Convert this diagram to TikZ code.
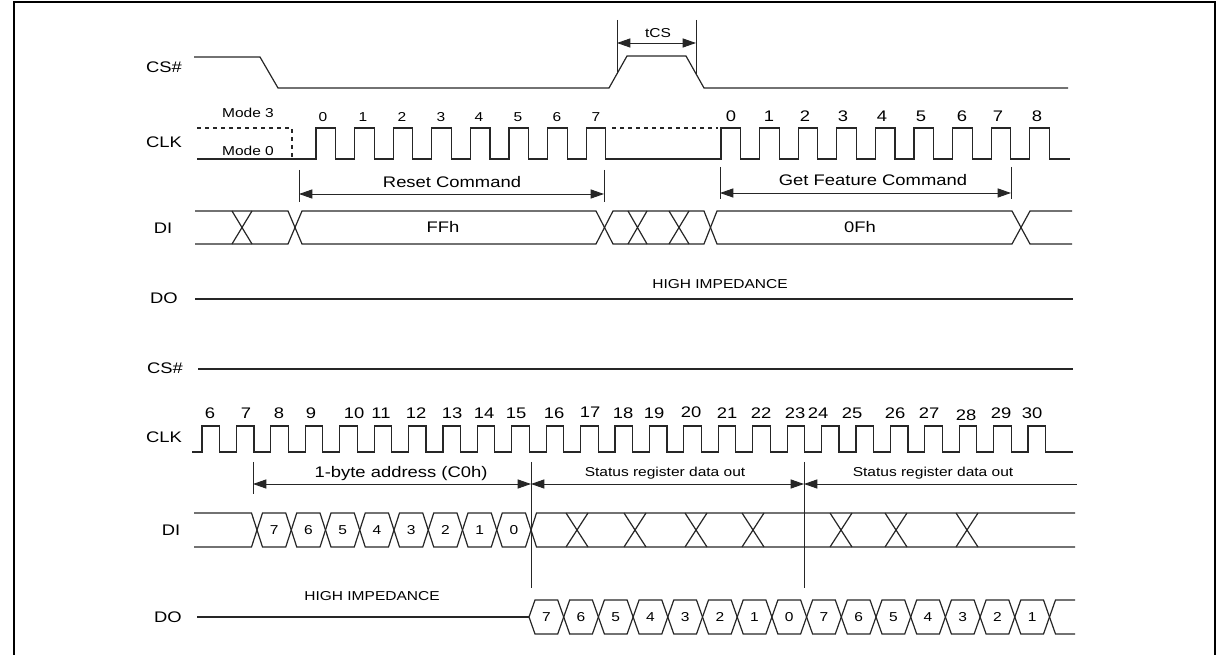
\documentclass[tikz,border=0pt]{standalone}
\usepackage{fontspec}
\setmainfont{Liberation Sans}[FakeStretch=1.2]
\usetikzlibrary{arrows.meta}
\begin{document}
\begin{tikzpicture}[x=0.75pt,y=-0.75pt,
  sig/.style={line width=0.9pt,color=black!85},
  dim/.style={line width=0.7pt,color=black!85},
  dimarr/.style={dim,{Triangle[length=10pt,width=6.8pt]}-{Triangle[length=10pt,width=6.8pt]}},
  larr/.style={dim,{Triangle[length=10pt,width=6.8pt]}-},
  big/.style={font=\fontsize{11.5}{13}\selectfont,inner sep=0pt,text height=8.3pt,text depth=0pt},
  small/.style={font=\fontsize{9.7}{11}\selectfont,inner sep=0pt,text height=6.9pt,text depth=0pt},
]
\useasboundingbox (0,0) rectangle (1221,655);
\draw[line width=1.8pt] (14,655) -- (14,2.2) -- (1214.7,2.2) -- (1214.7,655);

% ---------- signal names ----------
\node[big] (ncs1) at (164,67) {CS\#};
\node[big] (nclk1) at (164,142) {CLK};
\node[big] (ndi1) at (163,228) {DI};
\node[big] (ndo1) at (164,298) {DO};
\node[big] (ncs2) at (165,368) {CS\#};
\node[big] (nclk2) at (164,437) {CLK};
\node[big] (ndi2) at (171,530) {DI};
\node[big] (ndo2) at (168,617) {DO};

% ---------- top CS# ----------
\draw[sig] (194,57) -- (260,57) -- (278,88) -- (609,88) -- (627,56) -- (686,56) -- (704,88) -- (1068,88);
\draw[dim] (617,20) -- (617,74);
\draw[dim] (696,20) -- (696,74);
\draw[dimarr] (617,43) -- (696,43);
\node[small] (ntcs) at (658,33) {tCS};

% ---------- top CLK ----------
\draw[sig,dashed] (197,128) -- (292,128) -- (292,159);
\draw[sig,dashed] (612,128) -- (718,128);
\draw[sig] (197,159)
  \foreach \i in {0,...,7} { -- ({316+38.6*\i},159) -- ({316+38.6*\i},128) -- ({335.5+38.6*\i},128) -- ({335.5+38.6*\i},159) }
  -- (721,159)
  \foreach \i in {0,...,8} { -- ({721+38.6*\i},159) -- ({721+38.6*\i},128) -- ({740.5+38.6*\i},128) -- ({740.5+38.6*\i},159) }
  -- (1070,159);
\node[small] (nm3) at (248,112.5) {Mode 3};
\node[small] (nm0) at (248,151) {Mode 0};
\foreach \x [count=\n from 0] in {323,363,402,441,479,518,557,596}
  \node[small] (ca\n) at (\x,117) {\n};
\foreach \x [count=\n from 0] in {731,769,805,843,882,921,962,998,1037}
  \node[big] (cb\n) at (\x,116) {\n};

% ---------- command arrows ----------
\draw[dim] (299,170) -- (299,202);
\draw[dim] (604,170) -- (604,202);
\draw[dimarr] (299,194) -- (604,194);
\node[big] (nreset) at (452,182) {Reset Command};
\draw[dim] (720,167) -- (720,199);
\draw[dim] (1011,167) -- (1011,199);
\draw[dimarr] (720,193) -- (1011,193);
\node[big] (nget) at (873,180) {Get Feature Command};

% ---------- top DI ----------
\draw[sig] (195,211) -- (288,211) -- (295,227.5) -- (288,244) -- (195,244);
\draw[sig] (232,211) -- (252,244) (232,244) -- (252,211);
\draw[sig] (295,227.5) -- (302,211) -- (596,211) -- (604.5,227.5) -- (596,244) -- (302,244) -- cycle;
\draw[sig] (604.5,227.5) -- (613,211) -- (704,211) -- (710.5,227.5) -- (704,244) -- (613,244) -- cycle;
\draw[sig] (628,211) -- (647,244) (628,244) -- (647,211);
\draw[sig] (669,211) -- (689,244) (669,244) -- (689,211);
\draw[sig] (710.5,227.5) -- (717,211) -- (1012,211) -- (1021,227.5) -- (1012,244) -- (717,244) -- cycle;
\draw[sig] (1072,211) -- (1030,211) -- (1021,227.5) -- (1030,244) -- (1072,244);
\node[big] (nffh) at (443,227) {FFh};
\node[big] (n0fh) at (860,227) {0Fh};

% ---------- top DO ----------
\draw[sig] (195,299) -- (1073,299);
\node[small] (nhi1) at (720,284) {HIGH IMPEDANCE};

% ---------- second CS# ----------
\draw[sig] (198,369) -- (1073,369);

% ---------- bottom CLK ----------
\draw[sig] (192,452)
  \foreach \i in {0,...,24} { -- ({202+34.42*\i},452) -- ({202+34.42*\i},426) -- ({219.5+34.42*\i},426) -- ({219.5+34.42*\i},452) }
  -- (1073,452);
\foreach \x/\y [count=\n from 6] in {210/413,246/413,279/413,311/413,354/413,381/413,416/413,452/413,484/413,516/413,554/413,590/412,623/413,654/413,691/412,727/413,761/413,795/413,818/413,852/413,895/413,929/413,966/415,1001/413,1032/413}
  \node[big] (cc\n) at (\x,\y) {\n};

% ---------- bottom arrows ----------
\draw[dim] (253,462) -- (253,494);
\draw[dim] (531,462) -- (531,588);
\draw[dim] (804,462) -- (804,588);
\draw[dimarr] (253,484) -- (531,484);
\draw[dimarr] (531,484) -- (804,484);
\draw[larr] (804,484) -- (1077,484);
\node[big] (naddr) at (401,472) {1-byte address (C0h)};
\node[small] (nst1) at (665,472) {Status register data out};
\node[small] (nst2) at (933,472) {Status register data out};

% ---------- bottom DI ----------
\def\dT{513}\def\dB{547}\def\dM{530}\def\dh{5.5}
\draw[sig] (194,\dT) -- ({257-\dh},\dT) -- (257,\dM) -- ({257-\dh},\dB) -- (194,\dB);
\foreach \v [count=\k from 0] in {7,6,5,4,3,2,1,0} {
  \pgfmathsetmacro\ca{257+34.25*\k}
  \pgfmathsetmacro\cb{257+34.25*(\k+1)}
  \draw[sig] (\ca,\dM) -- (\ca+\dh,\dT) -- (\cb-\dh,\dT) -- (\cb,\dM) -- (\cb-\dh,\dB) -- (\ca+\dh,\dB) -- cycle;
  \node[small] (di\k) at ({(\ca+\cb)/2},\dM) {\v};
}
\draw[sig] (1075,\dT) -- ({531+\dh},\dT) -- (531,\dM) -- ({531+\dh},\dB) -- (1075,\dB);
\foreach \c in {577,635,696,753,841,896,967}
  \draw[sig] (\c-11,\dT) -- (\c+11,\dB) (\c-11,\dB) -- (\c+11,\dT);

% ---------- bottom DO ----------
\def\oT{600}\def\oB{634}\def\oM{617}\def\oh{6}
\draw[sig] (197,\oM) -- (529,\oM);
\foreach \v [count=\k from 0] in {7,6,5,4,3,2,1,0,7,6,5,4,3,2,1} {
  \pgfmathsetmacro\ca{529+34.7*\k}
  \pgfmathsetmacro\cb{529+34.7*(\k+1)}
  \draw[sig] (\ca,\oM) -- (\ca+\oh,\oT) -- (\cb-\oh,\oT) -- (\cb,\oM) -- (\cb-\oh,\oB) -- (\ca+\oh,\oB) -- cycle;
  \node[small] (do\k) at ({(\ca+\cb)/2},\oM) {\v};
}
\draw[sig] (1075,\oT) -- ({529+34.7*15+\oh},\oT) -- ({529+34.7*15},\oM) -- ({529+34.7*15+\oh},\oB) -- (1075,\oB);
\node[small] (nhi2) at (372,596) {HIGH IMPEDANCE};
\end{tikzpicture}
\end{document}
